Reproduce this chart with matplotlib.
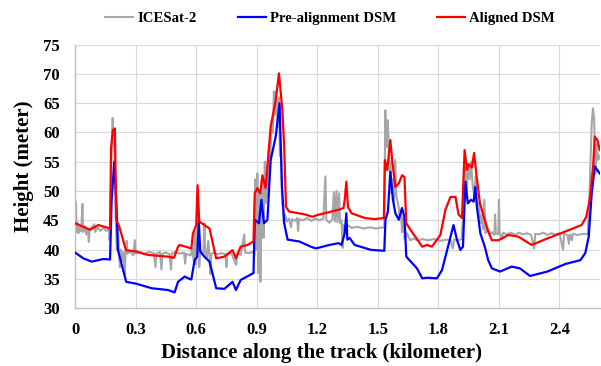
import matplotlib
matplotlib.use("Agg")
import matplotlib.pyplot as plt

# ICESat-2 profile (noisy)
gray_x = [0.000, 0.004, 0.007, 0.012, 0.016, 0.022, 0.030, 0.036, 0.040, 0.048, 0.055, 0.063, 0.068, 0.072,
          0.085, 0.095, 0.100, 0.110, 0.125, 0.140, 0.155, 0.168, 0.171, 0.174, 0.178, 0.182, 0.186, 0.190,
          0.195, 0.199, 0.203, 0.207, 0.212, 0.217, 0.222, 0.227, 0.233, 0.240, 0.246, 0.250, 0.256, 0.260,
          0.275, 0.288, 0.296, 0.300, 0.320, 0.340, 0.365, 0.390, 0.398, 0.402, 0.420, 0.428, 0.432, 0.450,
          0.468, 0.475, 0.480, 0.500, 0.520, 0.540, 0.545, 0.550, 0.572, 0.580, 0.588, 0.594, 0.599, 0.604,
          0.610, 0.615, 0.620, 0.627, 0.636, 0.641, 0.645, 0.652, 0.660, 0.665, 0.670, 0.675, 0.690, 0.705,
          0.725, 0.745, 0.750, 0.755, 0.775, 0.798, 0.803, 0.820, 0.838, 0.842, 0.860, 0.880, 0.888, 0.893,
          0.898, 0.903, 0.908, 0.913, 0.918, 0.924, 0.929, 0.934, 0.940, 0.945, 0.950, 0.955, 0.960, 0.965,
          0.970, 0.975, 0.980, 0.985, 0.990, 0.995, 1.000, 1.005, 1.010, 1.015, 1.020, 1.025, 1.030, 1.035,
          1.040, 1.050, 1.060, 1.070, 1.075, 1.090, 1.100, 1.105, 1.110, 1.130, 1.150, 1.170, 1.190, 1.210,
          1.230, 1.240, 1.245, 1.260, 1.275, 1.282, 1.287, 1.295, 1.300, 1.308, 1.313, 1.320, 1.326, 1.331,
          1.340, 1.350, 1.370, 1.400, 1.430, 1.460, 1.490, 1.520, 1.532, 1.537, 1.542, 1.548, 1.553, 1.558,
          1.563, 1.568, 1.574, 1.580, 1.586, 1.592, 1.600, 1.608, 1.614, 1.620, 1.626, 1.633, 1.645, 1.660,
          1.680, 1.700, 1.720, 1.750, 1.780, 1.810, 1.840, 1.860, 1.872, 1.878, 1.900, 1.915, 1.925, 1.932,
          1.940, 1.948, 1.955, 1.962, 1.970, 1.978, 1.985, 1.992, 2.000, 2.008, 2.015, 2.022, 2.028, 2.033,
          2.045, 2.055, 2.065, 2.078, 2.081, 2.085, 2.097, 2.100, 2.104, 2.115, 2.120, 2.140, 2.160, 2.180,
          2.200, 2.220, 2.240, 2.260, 2.275, 2.280, 2.300, 2.320, 2.340, 2.360, 2.380, 2.400, 2.418, 2.423,
          2.440, 2.447, 2.452, 2.462, 2.466, 2.490, 2.520, 2.540, 2.548, 2.555, 2.560, 2.566, 2.572, 2.578,
          2.585, 2.592, 2.600]
gray_y = [43.5, 48.2, 43.0, 44.6, 42.8, 43.8, 43.1, 47.8, 43.0, 44.0, 42.6, 43.5, 41.3, 43.5,
          43.9, 44.3, 43.0, 43.8, 43.2, 43.7, 43.2, 43.5, 41.6, 43.4, 52.0, 58.0, 62.5, 59.0,
          56.5, 48.0, 44.0, 40.0, 44.5, 39.5, 37.0, 40.0, 38.0, 39.6, 35.8, 39.5, 41.5, 39.3,
          39.7, 39.0, 41.6, 39.3, 39.6, 39.2, 39.6, 39.4, 37.0, 39.3, 39.6, 36.6, 39.3, 39.5,
          39.2, 36.6, 39.4, 39.6, 39.3, 39.5, 37.6, 39.3, 39.0, 40.2, 38.0, 43.0, 37.5, 42.0,
          46.0, 37.0, 40.0, 39.2, 39.5, 44.5, 39.2, 38.4, 41.5, 39.3, 35.8, 39.3, 39.5, 39.2,
          39.4, 39.2, 37.0, 39.4, 39.3, 37.4, 39.4, 39.1, 42.6, 39.5, 39.4, 39.6, 39.0, 52.0,
          40.0, 53.0, 36.0, 50.0, 34.5, 46.0, 52.0, 42.0, 55.0, 48.0, 54.0, 49.0, 57.0, 53.0,
          58.5, 62.0, 60.0, 67.0, 63.0, 67.0, 64.0, 61.0, 66.0, 56.0, 57.5, 49.0, 47.0, 44.5,
          46.0, 44.8, 45.3, 43.8, 45.2, 44.9, 45.4, 43.2, 45.2, 45.0, 45.4, 44.9, 45.3, 45.0,
          45.3, 52.5, 45.0, 44.6, 45.2, 49.8, 44.8, 50.0, 44.7, 49.6, 44.5, 45.0, 40.3, 44.2,
          43.9, 44.2, 43.7, 43.9, 43.6, 43.8, 43.6, 43.8, 43.7, 63.8, 57.5, 62.1, 59.0, 53.5,
          55.0, 49.6, 52.0, 48.0, 55.3, 49.0, 48.0, 45.8, 46.8, 43.0, 45.6, 41.8, 42.8, 41.6,
          41.9, 41.5, 41.8, 41.6, 41.8, 41.5, 41.7, 41.6, 40.2, 41.7, 41.6, 41.8, 47.0, 54.0,
          50.0, 54.5, 52.0, 55.0, 51.0, 49.0, 52.5, 47.3, 48.0, 44.5, 45.9, 43.5, 48.5, 42.8,
          43.5, 42.6, 43.0, 42.5, 46.0, 42.8, 42.6, 48.5, 42.8, 41.8, 42.9, 42.6, 42.9, 42.5,
          42.9, 42.6, 42.8, 42.5, 40.2, 42.7, 42.6, 42.9, 42.5, 42.8, 42.6, 42.8, 40.0, 42.7,
          42.5, 41.0, 42.6, 41.6, 42.7, 42.5, 42.7, 42.6, 48.5, 56.0, 61.6, 64.1, 62.5, 53.0,
          58.0, 55.3, 56.0]

# Pre-alignment DSM
blue_x = [0, 0.041, 0.082, 0.14, 0.173, 0.181, 0.194, 0.204, 0.212, 0.229, 0.253, 0.30, 0.38, 0.46,
          0.493, 0.51, 0.543, 0.56, 0.576, 0.592, 0.605, 0.613, 0.62, 0.64, 0.666, 0.699, 0.74, 0.78,
          0.797, 0.82, 0.884, 0.89, 0.911, 0.923, 0.936, 0.953, 0.969, 0.994, 1.013, 1.025, 1.036, 1.053,
          1.11, 1.168, 1.193, 1.26, 1.306, 1.32, 1.336, 1.344, 1.349, 1.36, 1.385, 1.467, 1.532, 1.538,
          1.55, 1.562, 1.575, 1.587, 1.604, 1.62, 1.632, 1.641, 1.67, 1.694, 1.72, 1.744, 1.793, 1.818,
          1.85, 1.875, 1.892, 1.909, 1.922, 1.934, 1.946, 1.962, 1.975, 1.983, 1.991, 2.008, 2.03, 2.047,
          2.065, 2.106, 2.163, 2.204, 2.254, 2.34, 2.43, 2.504, 2.528, 2.545, 2.56, 2.575, 2.6]
blue_y = [39.5, 38.5, 37.95, 38.4, 38.3, 48.5, 55.0, 48.5, 39.95, 37.7, 34.5, 34.2, 33.4, 33.1,
          32.7, 34.5, 35.4, 35.1, 34.9, 38.2, 38.8, 44.8, 39.7, 38.8, 37.95, 33.4, 33.3, 34.5,
          33.1, 34.8, 36.0, 45.1, 44.5, 48.5, 44.5, 45.1, 55.3, 59.3, 65.0, 50.7, 44.5, 41.7,
          41.4, 40.5, 40.2, 40.8, 41.1, 40.8, 42.8, 46.2, 41.7, 42.0, 40.8, 39.95, 39.8, 45.1,
          46.5, 53.3, 48.5, 46.2, 45.1, 47.1, 45.6, 38.8, 37.7, 36.8, 35.1, 35.2, 35.1, 36.5,
          40.8, 44.2, 41.7, 39.95, 40.5, 51.6, 47.9, 48.5, 48.2, 50.7, 47.3, 42.8, 40.5, 38.2,
          36.8, 36.25, 37.1, 36.8, 35.5, 36.25, 37.55, 38.2, 39.4, 42.2, 49.6, 54.2, 53.0]

# Aligned DSM
red_x = [0, 0.074, 0.115, 0.173, 0.178, 0.187, 0.197, 0.204, 0.219, 0.252, 0.30, 0.36, 0.46, 0.49,
         0.51, 0.518, 0.576, 0.584, 0.60, 0.607, 0.615, 0.64, 0.666, 0.699, 0.74, 0.78, 0.797, 0.82,
         0.855, 0.884, 0.89, 0.903, 0.917, 0.928, 0.944, 0.969, 0.994, 1.01, 1.027, 1.036, 1.045, 1.06,
         1.14, 1.176, 1.2, 1.306, 1.33, 1.336, 1.344, 1.352, 1.37, 1.435, 1.485, 1.53, 1.535, 1.546,
         1.562, 1.571, 1.587, 1.604, 1.62, 1.632, 1.641, 1.661, 1.686, 1.72, 1.744, 1.768, 1.81, 1.835,
         1.86, 1.885, 1.9, 1.917, 1.93, 1.942, 1.95, 1.966, 1.977, 1.987, 2.006, 2.03, 2.047, 2.065,
         2.098, 2.147, 2.197, 2.262, 2.34, 2.43, 2.51, 2.533, 2.55, 2.567, 2.575, 2.588, 2.6]
red_y = [44.5, 43.4, 44.2, 43.6, 57.3, 60.4, 60.7, 45.1, 43.9, 39.9, 39.7, 39.1, 38.8, 38.6,
         40.5, 40.8, 40.2, 42.8, 44.2, 51.0, 44.8, 44.2, 43.6, 38.5, 38.8, 39.9, 38.5, 40.5,
         40.8, 41.4, 49.6, 50.5, 49.6, 52.7, 50.5, 61.0, 65.5, 70.1, 63.8, 57.6, 47.3, 46.5,
         46.0, 45.6, 45.9, 46.8, 47.1, 48.5, 51.6, 47.3, 46.2, 45.4, 45.2, 45.4, 55.3, 53.6,
         58.7, 55.3, 50.7, 51.3, 52.7, 52.4, 44.5, 43.4, 42.2, 40.5, 40.8, 40.5, 42.5, 46.8,
         49.0, 49.0, 46.0, 45.4, 57.0, 53.6, 54.6, 54.0, 56.5, 53.3, 47.9, 45.1, 43.1, 41.6,
         41.6, 42.5, 42.2, 40.8, 41.9, 43.1, 44.2, 45.6, 48.5, 54.2, 59.3, 58.7, 57.0]

x_ticks = [0, 0.3, 0.6, 0.9, 1.2, 1.5, 1.8, 2.1, 2.4]
x_labels = ["0", "0.3", "0.6", "0.9", "1.2", "1.5", "1.8", "2.1", "2.4"]
y_ticks = [30, 35, 40, 45, 50, 55, 60, 65, 70, 75]

plt.rcParams["font.family"] = ["Liberation Serif", "DejaVu Serif"]
plt.rcParams["font.weight"] = "bold"

fig, ax = plt.subplots(figsize=(6.01, 3.66), dpi=100)
fig.subplots_adjust(left=0.125, right=0.998, top=0.878, bottom=0.158)

ax.plot(gray_x, gray_y, color="#a6a6a6", lw=1.5, label="ICESat-2", zorder=2)
ax.plot(blue_x, blue_y, color="#0000ff", lw=1.6, label="Pre-alignment DSM", zorder=3)
ax.plot(red_x, red_y, color="#ff0000", lw=1.6, label="Aligned DSM", zorder=4)

ax.set_xlim(0, 2.6)
ax.set_ylim(30, 75)
ax.set_xticks(x_ticks)
ax.set_xticklabels(x_labels)
ax.set_yticks(y_ticks)
ax.tick_params(length=0, labelsize=12)
ax.tick_params(axis="x", pad=10)
ax.tick_params(axis="y", pad=11)
for lab in ax.get_xticklabels() + ax.get_yticklabels():
    lab.set_fontweight("bold")

ax.grid(True, color="#d9d9d9", lw=0.8, zorder=0)
ax.set_axisbelow(True)
for s in ["top", "right"]:
    ax.spines[s].set_visible(False)
for s in ["left", "bottom"]:
    ax.spines[s].set_color("#bfbfbf")
    ax.spines[s].set_linewidth(1.0)

ax.set_xlabel("Distance along the track (kilometer)", fontsize=15, fontweight="bold")
ax.set_ylabel("Height (meter)", fontsize=15, fontweight="bold")
ax.xaxis.set_label_coords(0.47, -0.132)
ax.yaxis.set_label_coords(-0.078, 0.54)

fig.legend(loc="center", bbox_to_anchor=(0.549, 0.950), ncol=3, frameon=False,
           handlelength=1.9, handletextpad=0.27, columnspacing=2.8,
           prop={"size": 10.6, "weight": "bold"})

fig.savefig("out.png", dpi=100)
